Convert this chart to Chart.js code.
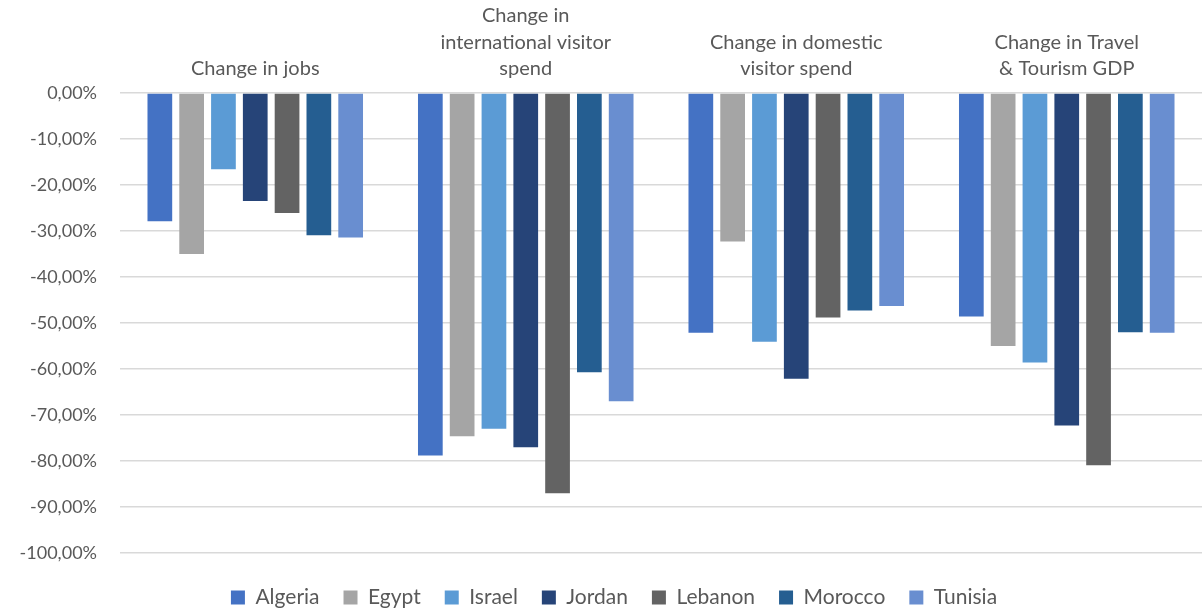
<!DOCTYPE html>
<html>
<head>
<meta charset="utf-8">
<script src="https://cdn.jsdelivr.net/npm/chart.js@4"></script>
<style>
  html, body { margin: 0; padding: 0; background: #fff; }
  #wrap { width: 1203px; height: 613px; }
</style>
</head>
<body>
<div id="wrap"><canvas id="chart"></canvas></div>
<script>
// categories (multi-line labels, as in the original)
const categories = [
  ["Change in jobs"],
  ["Change in", "international visitor", "spend"],
  ["Change in domestic", "visitor spend"],
  ["Change in Travel", "& Tourism GDP"],
];

// % change per country, in the order of the categories
const algeria = [-27.9, -78.8, -52.1, -48.6];
const egypt = [-35.0, -74.6, -32.3, -55.0];
const israel = [-16.6, -73.0, -54.1, -58.6];
const jordan = [-23.5, -77.0, -62.1, -72.3];
const lebanon = [-26.1, -87.0, -48.8, -80.9];
const morocco = [-30.9, -60.7, -47.3, -52.0];
const tunisia = [-31.4, -67.0, -46.3, -52.1];

const countries = ["Algeria", "Egypt", "Israel", "Jordan", "Lebanon", "Morocco", "Tunisia"];
const colors = ["#4472C4", "#A5A5A5", "#5B9BD5", "#264478", "#636363", "#255E91", "#698ED0"];
const seriesData = [algeria, egypt, israel, jordan, lebanon, morocco, tunisia];

const textColor = "#595959";
const fontFamily = "Lato, 'Liberation Sans', sans-serif";

// the original legend sits a little right of the canvas centre
const shiftLegend = {
  id: "shiftLegend",
  afterLayout(chart) {
    if (chart.legend) chart.legend.left += 26;
  },
};

new Chart(document.getElementById("chart").getContext("2d"), {
  type: "bar",
  data: {
    labels: categories,
    datasets: countries.map((name, i) => ({
      label: name,
      data: seriesData[i],
      backgroundColor: colors[i],
      borderWidth: 0,
      categoryPercentage: 0.823,
      barPercentage: 0.777,
    })),
  },
  options: {
    responsive: true,
    maintainAspectRatio: false,
    animation: false,
    layout: {
      padding: { top: 0, right: 1, bottom: -5, left: 0 },
    },
    plugins: {
      legend: {
        position: "bottom",
        // empty title just pushes the legend row down a bit
        title: { display: true, text: "", font: { size: 1, lineHeight: 1 }, padding: { top: 9, bottom: 0 } },
        labels: {
          color: textColor,
          font: { family: fontFamily, size: 21 },
          boxWidth: 14,
          boxHeight: 14,
          padding: 24,
        },
      },
      tooltip: { enabled: false },
    },
    scales: {
      x: {
        position: "top",
        grid: { display: false, drawTicks: false },
        border: { display: false },
        ticks: {
          color: textColor,
          font: { family: fontFamily, size: 20, lineHeight: 1.33 },
          padding: 11,
          maxRotation: 0,
          autoSkip: false,
        },
        afterFit: (scale) => {
          scale.height = 93;
        },
      },
      y: {
        min: -100,
        max: 0,
        grid: { color: "#D9D9D9", lineWidth: 1.5, drawTicks: false },
        border: { display: false },
        ticks: {
          stepSize: 10,
          color: textColor,
          font: { family: fontFamily, size: 18 },
          padding: 23,
          callback: (v) => v.toFixed(2).replace(".", ",") + "%",
        },
        afterFit: (scale) => {
          scale.width = 120;
        },
      },
    },
  },
  plugins: [shiftLegend],
});
</script>
</body>
</html>
